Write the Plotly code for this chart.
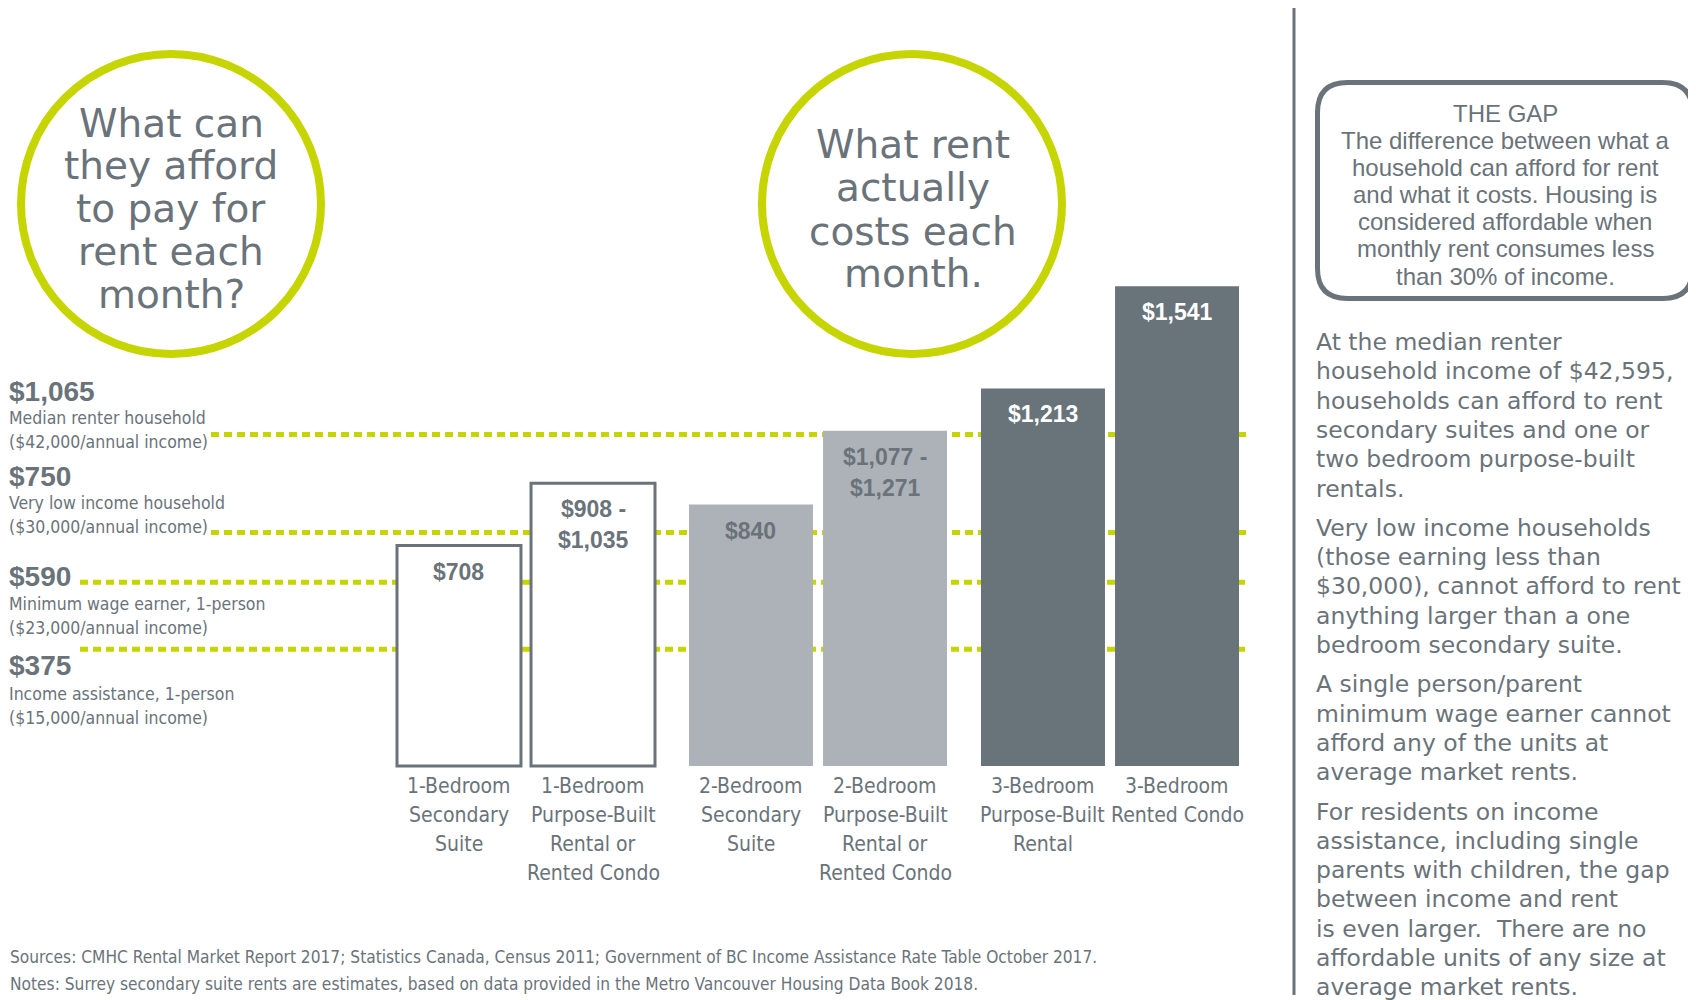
import plotly.graph_objects as go

W, H = 1696, 1000
OFF = 8                      # page body margin the figure sits inside
FW, FH = W - OFF, H - OFF    # figure size

# ---------------- data ----------------
bedroom_groups = ["1-Bedroom", "2-Bedroom", "3-Bedroom"]
unit_labels_a = ["1-Bedroom\nSecondary\nSuite",
                 "2-Bedroom\nSecondary\nSuite",
                 "3-Bedroom\nPurpose-Built\nRental"]
unit_labels_b = ["1-Bedroom\nPurpose-Built\nRental or\nRented Condo",
                 "2-Bedroom\nPurpose-Built\nRental or\nRented Condo",
                 "3-Bedroom\nRented Condo"]
rent_a = [708, 840, 1213]
rent_b = [908, 1077, 1541]
rent_text_a = ["$708", "$840", "$1,213"]
rent_text_b = ["$908 -\n$1,035", "$1,077 -\n$1,271", "$1,541"]

afford_values = [1065, 750, 590, 375]
afford_labels = ["$1,065", "$750", "$590", "$375"]
afford_desc = ["Median renter household\n($42,000/annual income)",
               "Very low income household\n($30,000/annual income)",
               "Minimum wage earner, 1-person\n($23,000/annual income)",
               "Income assistance, 1-person\n($15,000/annual income)"]

circle_left_text = "What can\nthey afford\nto pay for\nrent each\nmonth?"
circle_right_text = "What rent\nactually\ncosts each\nmonth."

gap_box_text = ("THE GAP\nThe difference between what a\nhousehold can afford for rent\n"
                "and what it costs. Housing is\nconsidered affordable when\n"
                "monthly rent consumes less\nthan 30% of income.")

side_paragraphs = [
    "At the median renter\nhousehold income of $42,595,\nhouseholds can afford to rent\n"
    "secondary suites and one or\ntwo bedroom purpose-built\nrentals.",
    "Very low income households\n(those earning less than\n$30,000), cannot afford to rent\n"
    "anything larger than a one\nbedroom secondary suite.",
    "A single person/parent\nminimum wage earner cannot\nafford any of the units at\n"
    "average market rents.",
    "For residents on income\nassistance, including single\nparents with children, the gap\n"
    "between income and rent\nis even larger.  There are no\naffordable units of any size at\n"
    "average market rents.",
]

footnotes = ["Sources: CMHC Rental Market Report 2017; Statistics Canada, Census 2011; "
             "Government of BC Income Assistance Rate Table October 2017.",
             "Notes: Surrey secondary suite rents are estimates, based on data provided "
             "in the Metro Vancouver Housing Data Book 2018."]

# ---------------- styles ----------------
GRAY = "#6a737a"
LIGHT = "#adb2b8"
DARK = "#69737a"
LIME = "#c6d400"
COND = "DejaVu Sans Condensed, Liberation Sans Narrow, sans-serif"
WIDE = "DejaVu Sans, Verdana, sans-serif"
SANS = "Liberation Sans, Arial, sans-serif"

BARGAP = 0.082
BARGROUPGAP = 0.075

fig = go.Figure()
for vals in (rent_a, rent_b):
    fig.add_trace(go.Bar(
        x=bedroom_groups, y=vals,
        marker=dict(color=["white", LIGHT, DARK],
                    line=dict(color=[GRAY, LIGHT, DARK], width=[3, 0, 0])),
        hoverinfo="skip", showlegend=False))

ann = []
shapes = []


def px(x):
    return (x - OFF) / FW


def py(y):
    return 1 - (y - OFF) / FH


def text_lines(text, x, y0, step, size, family, color, xanchor="left", bold=False):
    for i, line in enumerate(text.split("\n")):
        t = f"<b>{line}</b>" if bold else line
        ann.append(dict(text=t, x=px(x), y=py(y0 + i * step), xref="paper", yref="paper",
                        xanchor=xanchor, yanchor="middle", showarrow=False,
                        font=dict(size=size, family=family, color=color)))


# bar value labels and category labels (positioned on the bar axis)
half = (1 - BARGAP) / 4
value_colors = [GRAY, GRAY, "white"]
for i in range(len(bedroom_groups)):
    for off, val, lab, cat in ((-half, rent_a[i], rent_text_a[i], unit_labels_a[i]),
                               (half, rent_b[i], rent_text_b[i], unit_labels_b[i])):
        for j, line in enumerate(lab.split("\n")):
            ann.append(dict(text=f"<b>{line}</b>", x=i + off, y=val, xref="x", yref="y",
                            xanchor="center", yanchor="middle", yshift=-26 - 31 * j,
                            showarrow=False,
                            font=dict(size=23, family=SANS, color=value_colors[i])))
        for j, line in enumerate(cat.split("\n")):
            ann.append(dict(text=line, x=i + off, y=0, xref="x", yref="y",
                            xanchor="center", yanchor="middle", yshift=-20 - 29 * j,
                            showarrow=False,
                            font=dict(size=21, family=COND, color=GRAY)))

# affordability dashed lines
line_start_px = [211, 211, 80, 80]
for v, xs in zip(afford_values, line_start_px):
    shapes.append(dict(type="line", xref="paper", yref="y", x0=px(xs), x1=px(1249),
                       y0=v, y1=v, layer="below",
                       line=dict(color=LIME, width=5, dash="8px,5px")))

# affordability labels at left
label_y = [391, 476, 576, 665]
desc_y = [418, 503, 604, 694]
for lab, desc, ly, dy in zip(afford_labels, afford_desc, label_y, desc_y):
    text_lines(lab, 7, ly, 0, 28, SANS, GRAY, bold=True)
    text_lines(desc, 7, dy, 24, 17.5, COND, GRAY)

# circles
for cx, cy in ((171, 204), (912, 204)):
    r = 150
    shapes.append(dict(type="circle", xref="paper", yref="paper",
                       x0=px(cx - r), x1=px(cx + r), y0=py(cy + r), y1=py(cy - r),
                       line=dict(color=LIME, width=8)))
text_lines(circle_left_text, 171, 123, 42.8, 39, WIDE, GRAY, xanchor="center")
text_lines(circle_right_text, 913, 145, 43, 39, WIDE, GRAY, xanchor="center")

# vertical divider
shapes.append(dict(type="line", xref="paper", yref="paper", x0=px(1294), x1=px(1294),
                   y0=py(7), y1=py(995), line=dict(color=GRAY, width=3)))

# rounded box
bx0, bx1, by0, by1, rr = 1317.5, 1692.5, 82.5, 298.5, 30
rx, ry = rr / FW, rr / FH
X0, X1, Y0, Y1 = px(bx0), px(bx1), py(by0), py(by1)
path = (f"M {X0 + rx},{Y0} L {X1 - rx},{Y0} Q {X1},{Y0} {X1},{Y0 - ry} "
        f"L {X1},{Y1 + ry} Q {X1},{Y1} {X1 - rx},{Y1} L {X0 + rx},{Y1} "
        f"Q {X0},{Y1} {X0},{Y1 + ry} L {X0},{Y0 - ry} Q {X0},{Y0} {X0 + rx},{Y0} Z")
shapes.append(dict(type="path", xref="paper", yref="paper", path=path,
                   line=dict(color=GRAY, width=5)))
text_lines(gap_box_text, 1505, 114, 27, 24, SANS, GRAY, xanchor="center")

# side paragraphs
y = 342
for para in side_paragraphs:
    n = len(para.split("\n"))
    text_lines(para, 1314, y, 29.3, 23.5, WIDE, GRAY)
    y += n * 29.3 + 10

# footnotes
for i, note in enumerate(footnotes):
    text_lines(note, 8, 957 + 27 * i, 0, 17.2, COND, GRAY)

# axis mapping: value 0 at page pixel 766, 0.3113 px per dollar
ppd = 0.3113
zero_from_top = 766 - OFF
r0 = -(FH - zero_from_top) / ppd
r1 = r0 + FH / ppd
xc0, xstep = 526 - OFF, 292

fig.update_layout(
    width=FW, height=FH,
    margin=dict(l=0, r=0, t=0, b=0),
    paper_bgcolor="white", plot_bgcolor="white",
    barmode="group", bargap=BARGAP, bargroupgap=BARGROUPGAP,
    xaxis=dict(visible=False, range=[-xc0 / xstep, (FW - xc0) / xstep], domain=[0, 1],
               fixedrange=True),
    yaxis=dict(visible=False, range=[r0, r1], domain=[0, 1], fixedrange=True),
    shapes=shapes, annotations=ann,
    showlegend=False,
)

fig.write_html("out.html", config={"displayModeBar": False})
